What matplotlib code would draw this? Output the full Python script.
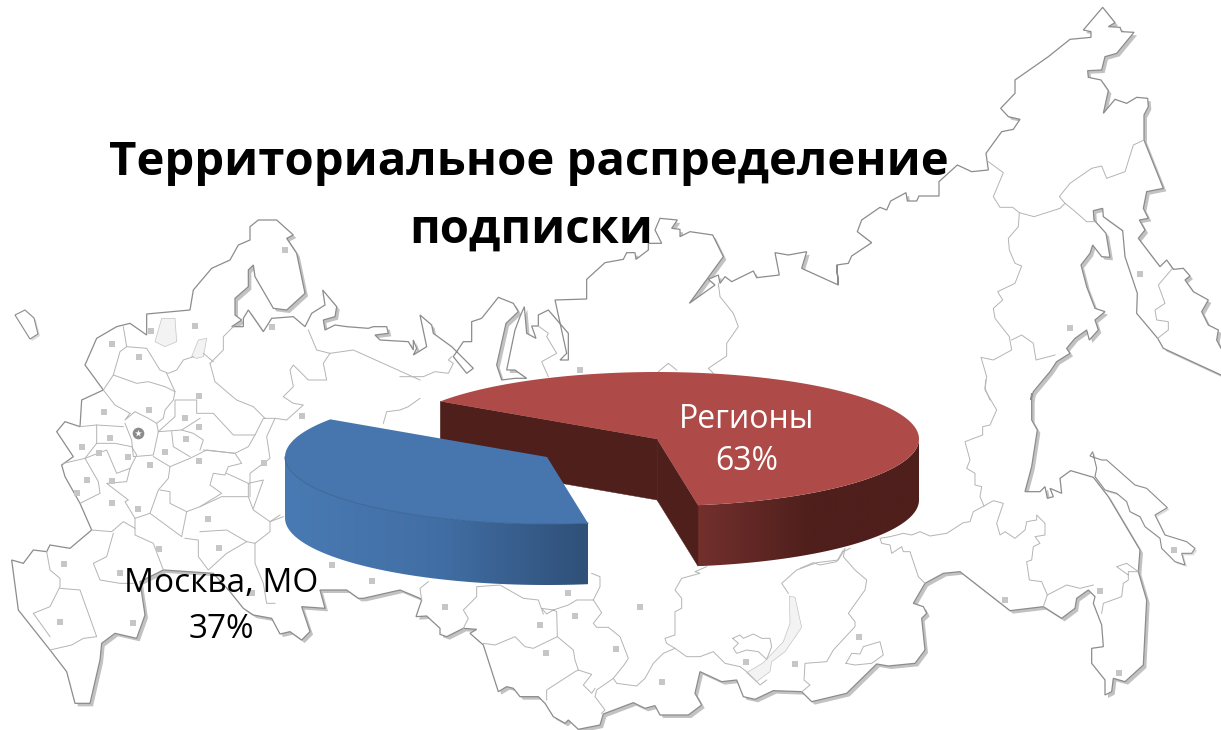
import matplotlib
matplotlib.use("Agg")
import matplotlib.pyplot as plt
import numpy as np
from matplotlib.colors import LinearSegmentedColormap
from matplotlib.patches import Polygon

# chart data
SHARE_LABELS = ["Регионы", "Москва, МО"]
SHARE_VALUES = [63, 37]
TITLE_LINES = ["Территориальное распределение", "подписки"]

# pie layout in image pixels
START_ANGLE = -81
RADIUS_X, RADIUS_Y = 262, 67
DEPTH = 61
CENTERS = [(657, 439), (547, 457)]
TOP_COLORS = ["#ae4a47", "#4776ae"]
CUT_COLOR = "#4f1f1c"
SIDE_COLORS = [["#73302d", "#4f1f1c", "#4f1f1c"], ["#4a7ab3", "#416fa5", "#2f5078"]]

FONT = ["Open Sans", "DejaVu Sans"]


def zoomed(points, x0, y0):
    return [(x / 3 + x0, y / 3 + y0) for x, y in points]


# map background
OUTLINE = (
    zoomed([
        (440, 375), (440, 312), (570, 300), (580, 240), (635, 175), (690, 150), (715, 105), (750, 90),
        (750, 50), (775, 30), (830, 30), (880, 75), (860, 85), (890, 130), (915, 250), (860, 300),
        (820, 295), (765, 200), (760, 165), (745, 180), (745, 230), (705, 265), (705, 315), (725, 330),
        (695, 350), (730, 350), (730, 325), (745, 300), (790, 365), (815, 325), (880, 320), (915, 350),
        (935, 310), (975, 285), (968, 240), (1010, 290), (1005, 320), (970, 330), (975, 360), (1005, 345),
        (1040, 350), (1105, 355), (1120, 350), (1160, 350), (1165, 370), (1125, 375), (1140, 390),
        (1225, 395), (1240, 420),
    ], 0, 210)
    + zoomed([
        (40, 420), (50, 445), (40, 465), (80, 440), (60, 345), (95, 375), (100, 400), (155, 440),
        (220, 505), (200, 520), (160, 470), (190, 425), (215, 425), (215, 365), (245, 355), (295, 292),
        (340, 310), (355, 335), (318, 370), (290, 495), (305, 540), (345, 535), (380, 535), (345, 510),
        (320, 510), (345, 390), (360, 350), (373, 320), (380, 400), (408, 415), (395, 378), (415, 378),
        (415, 345), (445, 330), (505, 400), (505, 480), (480, 480), (500, 460), (465, 300), (560, 297),
        (560, 238), (615, 188), (670, 178), (680, 158), (705, 158), (708, 178), (745, 150), (745, 130),
        (785, 130), (765, 90), (780, 55), (832, 60), (815, 85), (840, 88), (840, 110), (870, 95),
        (938, 105), (970, 170), (868, 310), (945, 255), (925, 238), (955, 225), (960, 250), (975, 230),
        (995, 245), (1060, 213), (1070, 233), (1138, 225), (1125, 158), (1165, 165), (1220, 155),
        (1205, 205), (1315, 255), (1310, 195),
    ], 400, 200)
    + zoomed([
        (55, 855), (50, 795), (85, 790), (95, 768), (155, 728), (112, 695), (125, 660), (180, 622),
        (200, 630), (212, 603), (258, 578), (262, 603), (290, 603), (297, 588), (357, 588), (357, 545),
        (412, 495), (455, 515), (505, 510), (498, 460), (545, 395), (580, 388), (600, 358), (565, 350),
        (542, 325), (585, 280), (585, 240), (685, 170), (750, 118), (813, 112), (813, 95), (790, 90),
        (848, 22), (885, 68), (865, 80), (900, 82), (905, 95), (942, 97), (890, 160), (855, 170),
        (845, 210), (803, 212), (805, 232), (843, 240), (865, 272), (850, 340), (885, 298), (920, 310),
        (950, 292), (983, 295), (985, 320), (972, 345), (972, 420), (1030, 565), (980, 575), (970, 625),
        (985, 655), (958, 660), (975, 690), (955, 715), (1020, 800), (1040, 780), (1060, 808), (1090, 805),
        (1110, 828), (1095, 840), (1120, 875), (1165, 900), (1145, 935), (1165, 975), (1195, 990),
        (1190, 1020), (1203, 1045), (1260, 1075), (1260, 1150), (1203, 1125), (1030, 1045), (1013, 1015),
        (950, 940), (952, 880), (915, 770), (908, 692), (850, 650), (848, 625), (820, 632), (822, 660),
        (858, 700), (870, 772), (845, 770), (818, 735), (810, 760), (783, 795), (800, 860), (825, 925),
        (855, 935), (825, 960), (835, 990), (808, 1020), (800, 990), (765, 1015), (740, 1045), (750, 1060),
        (710, 1085), (690, 1115), (640, 1175), (632, 1200),
    ], 820, 0)
    + zoomed([
        (695, 40), (695, 120), (712, 150), (695, 260), (675, 335), (720, 335), (735, 320), (742, 355),
        (760, 350), (750, 325), (785, 340), (780, 295), (812, 272), (880, 292), (925, 350), (1020, 510),
        (1015, 575), (1040, 660), (1030, 855), (975, 905), (940, 895), (935, 935), (915, 945), (915, 900),
        (875, 850), (875, 805), (910, 800), (905, 735), (880, 670), (885, 650), (865, 630), (830, 655),
        (825, 685), (785, 715), (730, 680), (630, 692), (480, 575), (430, 580), (375, 610), (340, 670),
        (370, 680), (380, 700), (365, 715), (375, 810), (345, 850), (265, 858), (230, 852), (140, 940),
        (35, 965),
    ], 800, 380)
    + zoomed([
        (1205, 455), (1120, 452), (1065, 478), (1030, 470), (1010, 420), (965, 425), (900, 395), (885, 460),
        (905, 495), (865, 525), (780, 525), (765, 497), (735, 505), (700, 488), (610, 522), (600, 555),
        (535, 568), (505, 540), (495, 550), (460, 530), (435, 490), (415, 470), (360, 470), (340, 445),
        (320, 440), (295, 455), (250, 315), (210, 280), (230, 268), (190, 265), (140, 290), (120, 283),
        (120, 265), (80, 228), (48, 230), (65, 180), (60, 175), (0, 150),
    ], 400, 540)
    + zoomed([
        (1090, 1165), (1075, 1165), (1040, 1140), (960, 1140), (975, 1195), (905, 1190), (930, 1265),
        (905, 1290), (870, 1265), (840, 1272), (815, 1225), (760, 1215), (730, 1195), (690, 1145),
        (640, 1090), (490, 1080), (420, 1115), (435, 1215), (410, 1285), (345, 1270), (305, 1300),
        (300, 1350), (270, 1480), (225, 1480), (200, 1385), (150, 1320), (55, 1200), (35, 1050), (70, 1060),
        (100, 1020), (140, 1025), (150, 1005), (210, 1015), (275, 960), (240, 880), (195, 800), (185, 765),
        (220, 740), (170, 665), (195, 635), (240, 650), (245, 570), (310, 540), (255, 465), (290, 385),
        (350, 350), (390, 340),
    ], 0, 210)
)
ISLANDS = [
    [(15, 315), (25, 310), (34, 318), (38, 334), (30, 339)],
    zoomed([
        (878, 215), (870, 228), (905, 240), (920, 240), (1005, 315), (1040, 325), (1102, 383), (1065, 405),
        (1095, 465), (1160, 485), (1185, 505), (1175, 520), (1145, 520), (1155, 555), (1125, 545),
        (1085, 505), (1080, 475), (1035, 440), (1020, 410), (990, 395), (980, 365), (950, 340), (915, 330),
        (885, 290), (890, 265),
    ], 800, 380),
]
LAKES = [
    zoomed([(465, 395), (485, 325), (525, 325), (530, 395), (495, 410)], 0, 210),
    zoomed([(575, 440), (595, 390), (620, 385), (610, 440), (590, 445)], 0, 210),
    zoomed([
        (1168, 168), (1185, 172), (1205, 262), (1155, 335), (1115, 365), (1110, 395), (1070, 425),
        (1040, 398), (1090, 368), (1150, 305), (1170, 250),
    ], 400, 540),
]
BORDERS_WEST = [
    [(370, 350), (380, 410), (360, 425), (340, 495), (410, 520), (445, 515), (495, 530), (525, 545), (520, 570),
     (495, 600), (490, 625), (470, 640)],
    [(380, 410), (440, 415), (480, 480), (505, 490), (530, 480), (550, 450), (580, 440)],
    [(500, 490), (525, 545)],
    [(340, 495), (310, 540), (345, 585), (390, 610)],
    [(390, 610), (375, 630), (405, 605), (445, 625), (470, 640), (475, 665), (460, 735), (400, 740), (395, 690),
     (375, 640)],
    [(240, 650), (290, 645), (370, 650)],
    [(290, 645), (290, 700), (255, 745), (190, 760)],
    [(290, 700), (345, 700), (395, 710), (410, 735), (390, 775), (350, 790), (320, 720), (255, 745), (295, 815),
     (300, 850), (240, 880)],
    [(390, 775), (380, 815), (320, 820), (385, 870), (375, 875), (405, 925), (450, 910), (475, 840), (505, 805),
     (510, 770), (460, 740)],
    [(510, 770), (570, 745), (620, 720), (705, 730), (725, 760), (685, 770), (675, 795), (640, 790), (630, 825),
     (665, 850), (600, 890)],
    [(475, 665), (525, 620), (525, 570), (590, 570), (590, 610), (640, 610), (700, 675), (765, 675), (790, 625),
     (825, 625)],
    [(475, 665), (545, 660), (600, 625)],
    [(515, 665), (520, 710), (570, 740)],
    [(600, 720), (610, 690), (580, 670), (545, 660)],
    [(610, 720), (705, 730), (745, 710), (765, 675)],
    [(680, 790), (745, 820), (745, 860), (665, 860), (600, 890), (560, 905), (510, 880), (510, 845), (480, 840)],
    [(745, 860), (760, 900), (810, 935), (840, 915)],
    [(745, 820), (790, 810), (760, 895)],
    [(450, 910), (545, 980), (560, 905)],
    [(405, 925), (405, 975), (460, 1000), (490, 1080)],
    [(275, 960), (335, 965), (370, 935), (405, 955)],
    [(555, 985), (595, 990), (595, 1040), (625, 1080), (680, 1030), (740, 995), (680, 960), (600, 965)],
    [(740, 995), (765, 1000), (810, 965), (810, 935), (850, 920)],
    [(765, 1000), (765, 1060), (790, 1120), (800, 1180), (825, 1180)],
    [(340, 970), (320, 1040), (280, 1060), (300, 1110), (360, 1120), (400, 1120)],
    [(140, 1025), (150, 1080), (180, 1105), (180, 1130), (150, 1190), (100, 1210), (150, 1280)],
    [(180, 1135), (240, 1140), (290, 1280), (250, 1285), (215, 1305), (150, 1320)],
    [(630, 460), (645, 515), (680, 545), (710, 570), (760, 590), (795, 625)],
    [(700, 350), (670, 380), (670, 420), (630, 460)],
    [(610, 430), (640, 455)],
    [(925, 360), (950, 420), (990, 430), (1060, 420), (1260, 510)],
    [(990, 430), (970, 460), (980, 510), (925, 510), (880, 465), (870, 480), (880, 530), (850, 560), (880, 580),
     (910, 585), (860, 630), (825, 625), (800, 680), (810, 745), (750, 790), (750, 860)],
    [(1150, 640), (1160, 605), (1200, 600), (1225, 590), (1260, 565)],
]
BORDERS_NORTH = [
    [(155, 470), (145, 480), (160, 490), (145, 520), (105, 515), (70, 530), (0, 530)],
    [(415, 378), (445, 400), (440, 410), (470, 460), (425, 485), (445, 530)],
    [(955, 250), (960, 290), (1000, 340), (1015, 380), (980, 430), (980, 468), (925, 505), (940, 520)],
    [(775, 515), (805, 490), (830, 510)],
]
BORDERS_FAR_EAST = [
    [(505, 485), (550, 518), (520, 590), (540, 622), (578, 622), (598, 638), (642, 650), (720, 625), (735, 610),
     (718, 590), (750, 550), (815, 505), (845, 498), (860, 535), (915, 515), (940, 435), (972, 420)],
    [(598, 638), (595, 680), (565, 715), (568, 750), (585, 790), (605, 798), (585, 850), (533, 875), (548, 900),
     (520, 925), (525, 955), (568, 1010), (575, 1050), (520, 1080), (483, 1072), (500, 1130), (495, 1165), (510, 1200)],
    [(735, 610), (760, 630), (800, 665), (825, 665)],
    [(575, 1020), (605, 1005), (640, 1030), (648, 1080), (705, 1065)],
    [(1055, 808), (1015, 855), (1035, 910), (1005, 930), (1010, 960), (1045, 965), (1045, 990), (1013, 1015)],
]
BORDERS_EAST = [
    [(557, 0), (555, 30), (590, 90), (570, 135), (548, 140), (548, 165), (495, 185), (510, 240), (500, 265),
     (525, 280), (525, 315), (545, 320), (540, 350), (552, 378), (580, 362), (610, 370), (590, 430), (600, 465),
     (615, 455), (645, 475), (675, 450), (680, 425), (710, 420), (710, 405), (735, 430), (735, 465), (705, 470),
     (720, 490), (700, 500), (695, 540), (680, 545), (688, 600), (725, 605), (742, 645), (730, 680)],
    [(552, 378), (520, 395), (510, 425), (490, 428), (440, 460), (390, 468), (360, 455), (335, 465), (310, 460),
     (270, 470), (240, 475), (245, 490), (270, 495), (275, 520), (305, 500), (310, 515), (330, 515), (355, 590),
     (375, 610)],
    [(135, 505), (130, 530), (165, 570), (200, 600), (195, 630), (145, 700), (165, 725), (165, 740), (100, 810),
     (80, 845), (15, 850), (12, 900), (30, 915), (0, 940)],
    [(130, 510), (110, 545), (60, 555), (40, 548), (0, 565)],
    [(138, 850), (155, 820), (180, 822), (190, 800), (240, 785), (250, 825), (215, 850), (165, 855), (138, 850)],
    [(742, 645), (800, 615), (840, 625), (880, 615)],
    [(905, 700), (910, 670), (965, 650), (970, 610), (985, 600), (985, 575), (1015, 575), (980, 550), (950, 560),
     (985, 585)],
]
BORDERS_SOUTH = [
    [(920, 80), (885, 95), (900, 100), (845, 115), (825, 150), (845, 175), (845, 205), (825, 215), (825, 285),
     (795, 295), (800, 310), (825, 325), (790, 340), (760, 370), (735, 415), (710, 438), (650, 430), (640, 415),
     (590, 450), (585, 470), (615, 510), (605, 520)],
    [(825, 325), (860, 350), (900, 350), (940, 335), (975, 370), (1020, 380), (1040, 395), (1080, 435), (1100, 420)],
    [(998, 295), (1020, 285), (1030, 295), (1060, 282), (1085, 295), (1110, 295), (1115, 320), (1100, 358),
     (1075, 335), (1040, 330), (1010, 340), (1000, 325), (1015, 310), (998, 295)],
    [(1165, 160), (1145, 130), (1190, 90), (1250, 68), (1315, 60), (1330, 35), (1350, 25)],
    [(580, 180), (605, 218), (580, 250), (590, 262), (625, 262), (660, 290), (685, 355), (672, 375), (640, 415)],
    [(580, 180), (600, 140), (600, 110), (575, 100)],
    [(580, 180), (530, 180), (505, 195), (460, 210), (425, 205), (440, 222), (460, 210), (470, 215), (472, 290),
     (400, 325), (375, 320), (345, 290), (285, 315), (250, 310)],
    [(472, 290), (520, 330), (525, 360), (535, 390), (575, 403), (550, 435), (575, 460), (585, 445)],
    [(535, 390), (525, 395), (440, 450), (440, 480)],
    [(65, 180), (60, 145), (85, 125)],
    [(190, 265), (205, 235), (190, 210), (230, 170), (230, 140), (300, 135), (370, 175), (415, 180), (430, 222)],
]
TOWNS = (
    zoomed([
        (855, 120), (452, 362), (585, 347), (815, 350), (337, 402), (417, 442), (597, 558), (447, 600),
        (312, 607), (556, 625), (907, 618), (597, 650), (330, 683), (247, 710), (557, 687), (297, 730),
        (384, 740), (495, 727), (450, 765), (597, 752), (793, 760), (262, 810), (335, 812), (232, 848),
        (337, 880), (413, 897), (623, 928), (658, 1015), (477, 1018), (997, 1065), (192, 1063), (360, 1088),
        (1117, 1113), (755, 1150), (180, 1235), (400, 1240),
    ], 0, 210)
    + zoomed([(614, 660), (901, 632), (1123, 510), (957, 880), (177, 770)], 800, 380)
    + zoomed([
        (503, 158), (136, 202), (526, 228), (420, 255), (720, 200), (648, 328), (437, 340), (785, 427),
        (1037, 366), (1185, 373),
    ], 400, 540)
    + zoomed([(960, 822), (750, 985)], 820, 0)
    + [(580, 370)]
)


def rim(center, t0, t1, drop=0):
    cx, cy = center
    t = np.radians(np.linspace(t0, t1, 120))
    return np.column_stack([cx + RADIUS_X * np.cos(t), cy - RADIUS_Y * np.sin(t) + drop])


def draw_map(ax):
    outline = np.array(OUTLINE)
    ax.add_patch(Polygon(outline + 3, closed=True, facecolor="#c2c2c2", edgecolor="none", zorder=1))
    for island in ISLANDS:
        ax.add_patch(Polygon(np.array(island) + 2, closed=True, facecolor="#dcdcdc", edgecolor="none", zorder=1))
    ax.add_patch(Polygon(outline, closed=True, facecolor="white", edgecolor="#8c8c8c", linewidth=0.9, zorder=2))
    for island in ISLANDS:
        ax.add_patch(Polygon(island, closed=True, facecolor="white", edgecolor="#8c8c8c", linewidth=0.8, zorder=2))
    for lake in LAKES:
        ax.add_patch(Polygon(lake, closed=True, facecolor="#f3f3f3", edgecolor="#c4c4c4", linewidth=0.5, zorder=3))

    crops = [
        (BORDERS_WEST, 0, 210), (BORDERS_NORTH, 400, 200), (BORDERS_FAR_EAST, 820, 0),
        (BORDERS_EAST, 800, 380), (BORDERS_SOUTH, 400, 540),
    ]
    for lines, x0, y0 in crops:
        for line in lines:
            xs, ys = zip(*zoomed(line, x0, y0))
            ax.plot(xs, ys, color="#b4b4b4", lw=0.7, zorder=3)

    xs, ys = zip(*TOWNS)
    ax.scatter(xs, ys, marker="s", s=22, color="#c6c6c6", linewidths=0, zorder=3)
    ax.scatter([138], [433], marker="o", s=70, color="#8a8a8a", linewidths=0, zorder=3)
    ax.scatter([138], [433], marker="*", s=28, color="white", linewidths=0, zorder=3)


def draw_gradient(ax, verts, colors, zorder):
    patch = Polygon(verts, closed=True, facecolor="none", edgecolor="none", zorder=zorder)
    ax.add_patch(patch)
    cmap = LinearSegmentedColormap.from_list("side", colors)
    im = ax.imshow(
        np.linspace(0, 1, 256).reshape(1, -1), cmap=cmap, aspect="auto", zorder=zorder,
        extent=(verts[:, 0].min(), verts[:, 0].max(), verts[:, 1].max(), verts[:, 1].min()),
    )
    im.set_clip_path(patch)


def draw_pie(ax):
    total = sum(SHARE_VALUES)
    start = START_ANGLE
    for i, value in enumerate(SHARE_VALUES):
        end = start + value / total * 360
        center = np.array(CENTERS[i])
        z = 5 + 2 * i
        # only the rim that faces the viewer gets a side wall
        front0, front1 = (start, 0) if i == 0 else (180, end)
        side = np.vstack([rim(center, front0, front1), rim(center, front1, front0, DEPTH)])
        draw_gradient(ax, side, SIDE_COLORS[i], z)
        if i == 0:
            a = rim(center, start, start)[0]
            b = rim(center, end, end)[0]
            for p in (a, b):
                face = np.array([center, p, p + (0, DEPTH), center + (0, DEPTH)])
                ax.add_patch(Polygon(face, closed=True, facecolor=CUT_COLOR, edgecolor=CUT_COLOR, lw=0.3, zorder=z))
            ax.plot([center[0]] * 2, [center[1], center[1] + DEPTH], color="#5a2724", lw=0.6, zorder=z)
        top = np.vstack([center, rim(center, start, end)])
        ax.add_patch(Polygon(top, closed=True, facecolor=TOP_COLORS[i], edgecolor="none", zorder=z + 1))
        if i == 1:
            edge = rim(center, 180, end)
            ax.plot(edge[:, 0], edge[:, 1], color="#3b6494", lw=0.7, zorder=z + 1)
        start = end


def main():
    fig = plt.figure(figsize=(12.21, 7.30), dpi=100)
    ax = fig.add_axes([0, 0, 1, 1])

    draw_map(ax)
    draw_pie(ax)

    ax.text(747, 419, SHARE_LABELS[0], color="white", family=FONT, fontsize=23, ha="center", va="center", zorder=10)
    ax.text(747, 462, f"{SHARE_VALUES[0]}%", color="white", family=FONT, fontsize=23, ha="center", va="center", zorder=10)
    ax.text(221, 583, SHARE_LABELS[1], color="black", family=FONT, fontsize=24, ha="center", va="center", zorder=10)
    ax.text(221, 629, f"{SHARE_VALUES[1]}%", color="black", family=FONT, fontsize=24, ha="center", va="center", zorder=10)

    ax.text(529, 162, TITLE_LINES[0], color="black", family=FONT, fontsize=34, fontweight="bold",
            ha="center", va="center", zorder=10)
    ax.text(531, 230, TITLE_LINES[1], color="black", family=FONT, fontsize=34, fontweight="bold",
            ha="center", va="center", zorder=10)

    ax.set_xlim(0, 1221)
    ax.set_ylim(730, 0)
    ax.axis("off")
    fig.savefig("out.png", dpi=100, facecolor="white")
    plt.close(fig)


if __name__ == "__main__":
    main()
